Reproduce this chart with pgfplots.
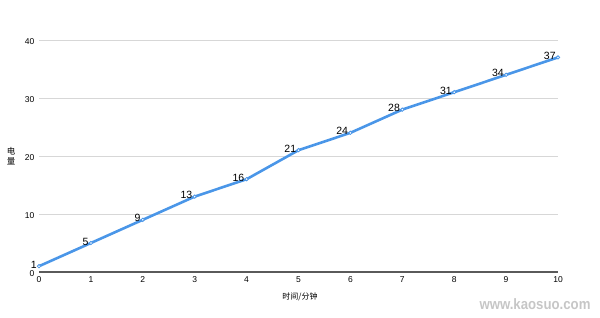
\documentclass[border=0pt]{standalone}
\usepackage{pgfplots}
\pgfplotsset{compat=1.18}
\usepackage{fontspec}
\setmainfont{Liberation Sans}
\newfontfamily\cjk{Noto Sans CJK SC}
\definecolor{lineblue}{RGB}{74,150,232}
\definecolor{gridgray}{RGB}{215,215,215}
\definecolor{axgray}{RGB}{90,90,90}
\begin{document}
\begin{tikzpicture}[x=1pt,y=1pt]
\useasboundingbox (0,0) rectangle (600,318);
\begin{axis}[
  at={(39pt,46pt)}, anchor=origin,
  scale only axis, width=519pt, height=232pt,
  xmin=0, xmax=10, ymin=0, ymax=40,
  xtick={0,...,10}, ytick={0,10,20,30,40},
  axis line style={draw=none},
  ymajorgrids, grid style={gridgray, line width=0.6pt},
  extra y ticks={0}, extra y tick labels={},
  extra y tick style={grid style={axgray, line width=1.3pt}},
  tick style={draw=none},
  ticklabel style={font=\fontsize{8.5}{9}\selectfont, text=black, inner sep=1pt},
  xticklabel style={yshift=-3.5pt},
  yticklabel style={xshift=-3.5pt, yshift=-1.5pt},
  /pgf/number format/assume math mode=true,
  clip=false,
  nodes near coords,
  every node near coord/.append style={font=\fontsize{10.5}{11}\selectfont, text=black, anchor=east, inner sep=0.5pt, xshift=-1.5pt, yshift=1.5pt},
]
\addplot[color=lineblue, line width=2.6pt, mark=*, mark size=1.7pt,
  mark options={fill=white, draw=lineblue, line width=0.8pt}]
  coordinates {(0,1)(1,5)(2,9)(3,13)(4,16)(5,21)(6,24)(7,28)(8,31)(9,34)(10,37)};
\end{axis}
\node[font=\cjk\fontsize{8.5}{9}\selectfont, inner sep=0pt] at (11,166.5) {电};
\node[font=\cjk\fontsize{8.5}{9}\selectfont, inner sep=0pt] at (11,157) {量};
\node[font=\cjk\fontsize{8}{9}\selectfont] at (300,21) {时间/分钟};
\node[font=\bfseries\fontsize{15}{16}\selectfont, text=gray!45, xscale=0.88] at (535,14) {www.kaosuo.com};
\end{tikzpicture}
\end{document}
